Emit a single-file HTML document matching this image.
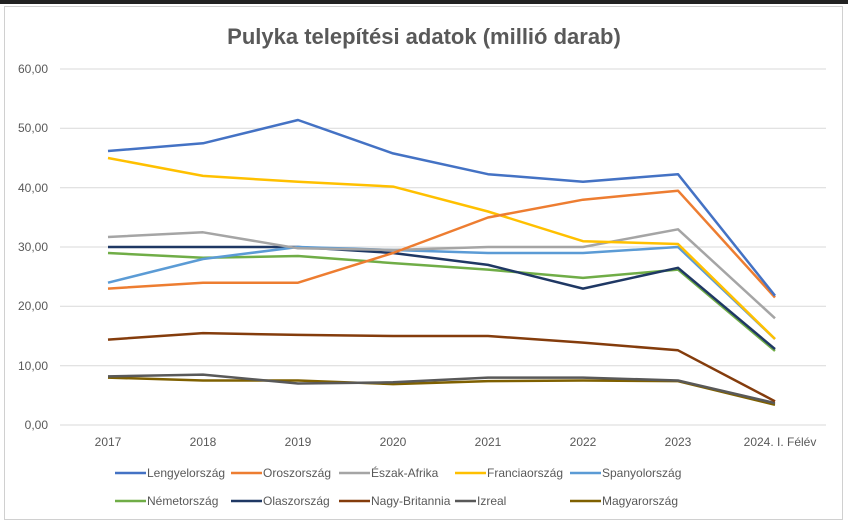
<!DOCTYPE html>
<html><head><meta charset="utf-8"><style>
body{margin:0;background:#fff;width:848px;height:527px;overflow:hidden;font-family:"Liberation Sans",sans-serif}
</style></head><body>
<svg width="848" height="527" xmlns="http://www.w3.org/2000/svg" font-family="Liberation Sans, sans-serif">
<rect x="0" y="0" width="848" height="527" fill="#fff"/>
<rect x="0" y="0" width="848" height="4" fill="#222"/>
<rect x="4.5" y="6.5" width="838" height="513" fill="none" stroke="#d0d0d0"/>
<text x="424" y="44" text-anchor="middle" font-size="22" font-weight="bold" fill="#595959">Pulyka telepítési adatok (millió darab)</text>
<g stroke="#d9d9d9" stroke-width="1">
<line x1="60" x2="826" y1="69" y2="69"/><line x1="60" x2="826" y1="128.3" y2="128.3"/>
<line x1="60" x2="826" y1="187.7" y2="187.7"/><line x1="60" x2="826" y1="247" y2="247"/>
<line x1="60" x2="826" y1="306.3" y2="306.3"/><line x1="60" x2="826" y1="365.7" y2="365.7"/>
<line x1="60" x2="826" y1="425" y2="425"/>
</g>
<g font-size="12" fill="#595959" text-anchor="end">
<text x="48" y="73">60,00</text><text x="48" y="132">50,00</text><text x="48" y="192">40,00</text>
<text x="48" y="251">30,00</text><text x="48" y="310">20,00</text><text x="48" y="370">10,00</text><text x="48" y="429">0,00</text>
</g>
<g font-size="12" fill="#595959" text-anchor="middle">
<text x="108" y="446">2017</text><text x="203" y="446">2018</text><text x="298" y="446">2019</text><text x="393" y="446">2020</text>
<text x="488" y="446">2021</text><text x="583" y="446">2022</text><text x="678" y="446">2023</text><text x="780" y="446">2024. I. Félév</text>
</g>
<g fill="none" stroke-width="2.5" stroke-linejoin="round">
<polyline stroke="#7f6000" points="108,377.6 203,380.5 298,380.5 393,384.1 488,381.1 583,380.5 678,381.1 775,404.8"/>
<polyline stroke="#595959" points="108,376.4 203,374.6 298,383.5 393,382.3 488,377.6 583,377.6 678,380.5 775,403.1"/>
<polyline stroke="#843c0c" points="108,339.6 203,333.1 298,334.9 393,336 488,336 583,342.6 678,350.3 775,401.3"/>
<polyline stroke="#70ad47" points="108,253 203,257.8 298,256 393,263.1 488,269.6 583,277.9 678,269.6 775,350.9"/>
<polyline stroke="#1f3864" points="108,247 203,247 298,247 393,253 488,264.9 583,288.6 678,267.8 775,349.1"/>
<polyline stroke="#5b9bd5" points="108,282.7 203,259 298,247 393,250 488,253 583,253 678,247 775,339"/>
<polyline stroke="#a5a5a5" points="108,237 203,232.3 298,248.3 393,250 488,247 583,247 678,229.3 775,318.3"/>
<polyline stroke="#ffc000" points="108,158 203,175.9 298,181.8 393,186.6 488,211.5 583,241.2 678,244 775,339"/>
<polyline stroke="#ed7d31" points="108,288.6 203,282.7 298,282.7 393,253 488,217.5 583,199.7 678,190.7 775,297.5"/>
<polyline stroke="#4472c4" points="108,151 203,143.3 298,120 393,153.4 488,174.2 583,181.8 678,174.2 775,295.7"/>
</g>
<g font-size="12" fill="#595959">
<line x1="115" x2="146" y1="473" y2="473" stroke="#4472c4" stroke-width="2.5"/><text x="147" y="477">Lengyelország</text>
<line x1="231" x2="262" y1="473" y2="473" stroke="#ed7d31" stroke-width="2.5"/><text x="263" y="477">Oroszország</text>
<line x1="339" x2="370" y1="473" y2="473" stroke="#a5a5a5" stroke-width="2.5"/><text x="371" y="477">Észak-Afrika</text>
<line x1="455" x2="486" y1="473" y2="473" stroke="#ffc000" stroke-width="2.5"/><text x="487" y="477">Franciaország</text>
<line x1="570" x2="601" y1="473" y2="473" stroke="#5b9bd5" stroke-width="2.5"/><text x="602" y="477">Spanyolország</text>
<line x1="115" x2="146" y1="501" y2="501" stroke="#70ad47" stroke-width="2.5"/><text x="147" y="505">Németország</text>
<line x1="231" x2="262" y1="501" y2="501" stroke="#1f3864" stroke-width="2.5"/><text x="263" y="505">Olaszország</text>
<line x1="339" x2="370" y1="501" y2="501" stroke="#843c0c" stroke-width="2.5"/><text x="371" y="505">Nagy-Britannia</text>
<line x1="455" x2="476" y1="501" y2="501" stroke="#595959" stroke-width="2.5"/><text x="477" y="505">Izreal</text>
<line x1="570" x2="601" y1="501" y2="501" stroke="#7f6000" stroke-width="2.5"/><text x="602" y="505">Magyarország</text>
</g>
</svg>
</body></html>
